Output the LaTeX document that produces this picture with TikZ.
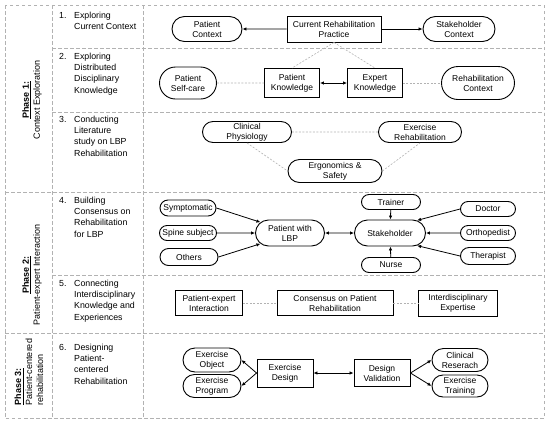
\documentclass[tikz,border=0pt]{standalone}
\usepackage{fontspec}
\setmainfont{Liberation Sans}
\usetikzlibrary{arrows.meta,shapes.misc}

\begin{document}
\begin{tikzpicture}[x=1pt, y=-1pt, >={Latex[length=4pt,width=3.5pt]},
	every node/.style={font=\fontsize{8.5}{10}\selectfont, inner sep=0pt, align=center},
	frame/.style={gray!60, dash pattern=on 3.5pt off 2.5pt, line width=0.6pt},
	link/.style={gray!60, dash pattern=on 2pt off 1.5pt, line width=0.6pt},
	conn/.style={line width=0.8pt},
	box/.style={draw, line width=0.9pt, rectangle},
	pill/.style={draw, line width=0.9pt, rounded rectangle},
	dims/.style 2 args={minimum width=#1pt, minimum height=#2pt},
	steplabel/.style={anchor=north west, align=left, font=\fontsize{8.8}{11.2}\selectfont},
	phaselabel/.style={rotate=90, font=\fontsize{9}{11}\selectfont}]
	\useasboundingbox (0,0) rectangle (550,424);

	\draw[frame] (5,5) rectangle (544,418);
	\draw[frame] (52,5) -- (52,418);
	\draw[frame] (143,5) -- (143,418);
	\foreach \yy in {192,333}
		\draw[frame] (5,\yy) -- (544,\yy);
	\foreach \yy in {48,112,275}
		\draw[frame] (52,\yy) -- (544,\yy);

	\node[phaselabel] (phaseone) at (32,100) {\underline{\textbf{Phase 1:}}\\Context Exploration};
	\node[phaselabel] (phasetwo) at (32,275) {\underline{\textbf{Phase 2:}}\\Patient-expert Interaction};
	\node[phaselabel, align=left] (phasethree) at (29,372) {\underline{\textbf{Phase 3:}}\\Patient-centered\\rehabilitation};

	\node[steplabel] (numone) at (59,12) {1.};
	\node[steplabel] (stepone) at (74,12) {Exploring\\Current Context};
	\node[steplabel] (numtwo) at (59,53) {2.};
	\node[steplabel] (steptwo) at (74,53) {Exploring\\Distributed\\Disciplinary\\Knowledge};
	\node[steplabel] (numthree) at (59,116) {3.};
	\node[steplabel] (stepthree) at (74,116) {Conducting\\Literature\\study on LBP\\Rehabilitation};
	\node[steplabel] (numfour) at (59,197) {4.};
	\node[steplabel] (stepfour) at (74,197) {Building\\Consensus on\\Rehabilitation\\for LBP};
	\node[steplabel] (numfive) at (59,280) {5.};
	\node[steplabel] (stepfive) at (74,280) {Connecting\\Interdisciplinary\\Knowledge and\\Experiences};
	\node[steplabel] (numsix) at (59,344) {6.};
	\node[steplabel] (stepsix) at (74,344) {Designing\\Patient-\\centered\\Rehabilitation};

	\node[pill, dims={70}{25}] (pcontext) at (207,29) {Patient\\Context};
	\node[box, dims={94}{26}] (practice) at (334,29) {Current Rehabilitation\\Practice};
	\node[pill, dims={72}{25}] (scontext) at (459,29) {Stakeholder\\Context};
	\draw[conn,->] (practice) -- (pcontext);
	\draw[conn,->] (practice) -- (scontext);

	\node[pill, dims={57}{32}] (selfcare) at (188,83) {Patient\\Self-care};
	\node[box, dims={55}{29}] (pknow) at (292,83) {Patient\\Knowledge};
	\node[box, dims={55}{29}] (eknow) at (375,83) {Expert\\Knowledge};
	\node[pill, dims={73}{33}] (rcontext) at (478,83) {Rehabilitation\\Context};
	\draw[conn,<->] (pknow) -- (eknow);
	\draw[link] (selfcare) -- (pknow);
	\draw[link] (eknow) -- (rcontext);
	\draw[link] (practice.south) -- (pknow.north);
	\draw[link] (practice.south) -- (eknow.north);

	\node[pill, dims={89}{21}] (physio) at (247,132) {Clinical\\Physiology};
	\node[pill, dims={83}{21}] (exrehab) at (420,132) {Exercise\\Rehabilitation};
	\node[pill, dims={94}{23}] (ergo) at (335,171) {Ergonomics \&\\Safety};
	\draw[link] (physio) -- (exrehab);
	\draw[link] (physio.south) -- (ergo.west);
	\draw[link] (ergo.east) -- (exrehab.south);

	\node[pill, dims={56}{16}] (sympt) at (188,208) {Symptomatic};
	\node[pill, dims={57}{15}] (spine) at (188,233) {Spine subject};
	\node[pill, dims={58}{17}] (others) at (189,257) {Others};
	\node[pill, dims={69}{26}] (patient) at (290,233) {Patient with\\LBP};
	\node[pill, dims={71}{26}] (holder) at (390,233) {Stakeholder};
	\node[pill, dims={59}{15}] (trainer) at (391,202) {Trainer};
	\node[pill, dims={59}{15}] (nurse) at (391,265) {Nurse};
	\node[pill, dims={55}{15}] (doctor) at (488,209) {Doctor};
	\node[pill, dims={55}{15}] (ortho) at (488,233) {Orthopedist};
	\node[pill, dims={55}{17}] (therap) at (488,256) {Therapist};
	\draw[conn,->] (sympt.east) -- (patient.160);
	\draw[conn,->] (spine) -- (patient);
	\draw[conn,->] (others.east) -- (patient.200);
	\draw[conn,<->] (patient) -- (holder);
	\draw[conn,->] (trainer) -- (holder);
	\draw[conn,->] (nurse) -- (holder);
	\draw[conn,->] (doctor.west) -- (holder.25);
	\draw[conn,->] (ortho) -- (holder);
	\draw[conn,->] (therap.west) -- (holder.335);

	\node[box, dims={67}{25}] (interact) at (209,303) {Patient-expert\\Interaction};
	\node[box, dims={116}{25}] (consensus) at (335,303) {Consensus on Patient\\Rehabilitation};
	\node[box, dims={79}{26}] (expertise) at (458,303) {Interdisciplinary\\Expertise};
	\draw[link] (interact) -- (consensus);
	\draw[link] (consensus) -- (expertise);

	\node[pill, dims={58}{24}] (exobject) at (212,360) {Exercise\\Object};
	\node[pill, dims={58}{23}] (exprog) at (212,386) {Exercise\\Program};
	\node[box, dims={56}{28}] (design) at (285,373) {Exercise\\Design};
	\node[box, dims={56}{27}] (valid) at (382,373) {Design\\Validation};
	\node[pill, dims={56}{23}] (clinic) at (460,360) {Clinical\\Reserach};
	\node[pill, dims={56}{22}] (training) at (460,386) {Exercise\\Training};
	\draw[conn,->] (design.west) -- (exobject.east);
	\draw[conn,->] (design.west) -- (exprog.east);
	\draw[conn,<->] (design) -- (valid);
	\draw[conn,->] (valid.east) -- (clinic.west);
	\draw[conn,->] (valid.east) -- (training.west);
\end{tikzpicture}
\end{document}
